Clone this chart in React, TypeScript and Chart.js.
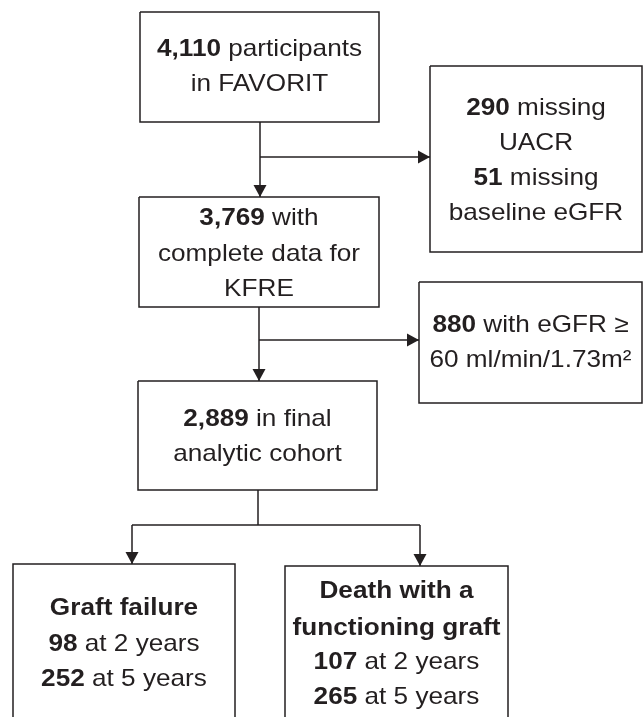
import React, { useEffect, useRef } from "react";
import { Chart, registerables } from "chart.js";

Chart.register(...registerables);

// ---------------- data ----------------
const stageCounts = [4110, 3769, 2889];
const missingCounts = [290, 51];
const highEgfrCounts = [880];
const outcomeLabels = ["Graft failure", "Death with a functioning graft"];
const outcomeYears = [2, 5];
const graftFailureCounts = [98, 252];
const deathWithGraftCounts = [107, 265];

// ---------------- layout ----------------
const W = 644;
const H = 717;
const INK = "#231f20";
const FONT = "Liberation Sans, Arial, sans-serif";
const FONT_SIZE = 24;
const STRETCH = 1.09;

type Seg = { t: string; b?: boolean };
type Box = { x0: number; x1: number; y0: number; y1: number; ty: number[]; lines: Seg[][]; open?: boolean };

const fmt = (n: number) => n.toLocaleString("en-US");

const boxes: Box[] = [
  {
    x0: 140, x1: 379, y0: 12, y1: 122, ty: [47, 82],
    lines: [[{ t: fmt(stageCounts[0]), b: true }, { t: " participants" }], [{ t: "in FAVORIT" }]],
  },
  {
    x0: 139, x1: 379, y0: 197, y1: 307, ty: [216, 252, 287],
    lines: [[{ t: fmt(stageCounts[1]), b: true }, { t: " with" }], [{ t: "complete data for" }], [{ t: "KFRE" }]],
  },
  {
    x0: 138, x1: 377, y0: 381, y1: 490, ty: [417, 452],
    lines: [[{ t: fmt(stageCounts[2]), b: true }, { t: " in final" }], [{ t: "analytic cohort" }]],
  },
  {
    x0: 430, x1: 642, y0: 66, y1: 252, ty: [106, 141, 176, 211],
    lines: [
      [{ t: fmt(missingCounts[0]), b: true }, { t: " missing" }],
      [{ t: "UACR" }],
      [{ t: fmt(missingCounts[1]), b: true }, { t: " missing" }],
      [{ t: "baseline eGFR" }],
    ],
  },
  {
    x0: 419, x1: 642, y0: 282, y1: 403, ty: [323, 358],
    lines: [[{ t: fmt(highEgfrCounts[0]), b: true }, { t: " with eGFR \u2265" }], [{ t: "60 ml/min/1.73m\u00b2" }]],
  },
  {
    x0: 13, x1: 235, y0: 564, y1: 730, ty: [606, 642, 677], open: true,
    lines: [
      [{ t: outcomeLabels[0], b: true }],
      [{ t: fmt(graftFailureCounts[0]), b: true }, { t: ` at ${outcomeYears[0]} years` }],
      [{ t: fmt(graftFailureCounts[1]), b: true }, { t: ` at ${outcomeYears[1]} years` }],
    ],
  },
  {
    x0: 285, x1: 508, y0: 566, y1: 730, ty: [589, 626, 660, 695], open: true,
    lines: [
      [{ t: "Death with a", b: true }],
      [{ t: "functioning graft", b: true }],
      [{ t: fmt(deathWithGraftCounts[0]), b: true }, { t: ` at ${outcomeYears[0]} years` }],
      [{ t: fmt(deathWithGraftCounts[1]), b: true }, { t: ` at ${outcomeYears[1]} years` }],
    ],
  },
];

// connectors: polylines; arrow = direction at last point
type Conn = { pts: [number, number][]; arrow?: "down" | "right" };
const connectors: Conn[] = [
  { pts: [[260, 122], [260, 197]], arrow: "down" },
  { pts: [[260, 157], [430, 157]], arrow: "right" },
  { pts: [[259, 307], [259, 381]], arrow: "down" },
  { pts: [[259, 340], [419, 340]], arrow: "right" },
  { pts: [[258, 490], [258, 525]] },
  { pts: [[132, 525], [420, 525]] },
  { pts: [[132, 525], [132, 564]], arrow: "down" },
  { pts: [[420, 525], [420, 566]], arrow: "down" },
];

const boxPolyline = (b: Box) =>
  b.open
    ? [
        { x: b.x0, y: b.y1 },
        { x: b.x0, y: b.y0 },
        { x: b.x1, y: b.y0 },
        { x: b.x1, y: b.y1 },
      ]
    : [
        { x: b.x0, y: b.y0 },
        { x: b.x1, y: b.y0 },
        { x: b.x1, y: b.y1 },
        { x: b.x0, y: b.y1 },
        { x: b.x0, y: b.y0 },
      ];

const overlayPlugin = {
  id: "flowOverlay",
  afterDatasetsDraw(chart: any) {
    const ctx: CanvasRenderingContext2D = chart.ctx;
    const sx = chart.scales.x;
    const sy = chart.scales.y;
    const px = (v: number) => sx.getPixelForValue(v);
    const py = (v: number) => sy.getPixelForValue(v);

    // arrowheads
    ctx.save();
    ctx.fillStyle = INK;
    connectors.forEach((c) => {
      if (!c.arrow) return;
      const [tx, ty] = c.pts[c.pts.length - 1];
      const x = px(tx);
      const y = py(ty);
      ctx.beginPath();
      if (c.arrow === "down") {
        ctx.moveTo(x, y);
        ctx.lineTo(x - 6.5, y - 12);
        ctx.lineTo(x + 6.5, y - 12);
      } else {
        ctx.moveTo(x, y);
        ctx.lineTo(x - 12, y - 6.5);
        ctx.lineTo(x - 12, y + 6.5);
      }
      ctx.closePath();
      ctx.fill();
    });
    ctx.restore();

    // text
    ctx.save();
    ctx.fillStyle = INK;
    ctx.textBaseline = "alphabetic";
    ctx.textAlign = "left";
    const fontOf = (b?: boolean) => `${b ? "bold " : ""}${FONT_SIZE}px ${FONT}`;
    boxes.forEach((b) => {
      const cx = px((b.x0 + b.x1) / 2);
      b.lines.forEach((line, i) => {
        let total = 0;
        const widths = line.map((s) => {
          ctx.font = fontOf(s.b);
          const w = ctx.measureText(s.t).width;
          total += w;
          return w;
        });
        const baseY = py(b.ty[i]) + FONT_SIZE * 0.358;
        ctx.save();
        ctx.translate(cx, baseY);
        ctx.scale(STRETCH, 1);
        let x = -total / 2;
        line.forEach((s, k) => {
          ctx.font = fontOf(s.b);
          ctx.fillText(s.t, x, 0);
          x += widths[k];
        });
        ctx.restore();
      });
    });
    ctx.restore();
  },
};

export default function App() {
  const ref = useRef<HTMLCanvasElement | null>(null);

  useEffect(() => {
    document.body.style.margin = "0";
    document.body.style.background = "#ffffff";
    const canvas = ref.current;
    if (!canvas) return;

    const datasets: any[] = [];
    boxes.forEach((b) => {
      datasets.push({
        data: boxPolyline(b),
        showLine: true,
        borderColor: INK,
        borderWidth: 1.5,
        pointRadius: 0,
        fill: false,
        tension: 0,
      });
    });
    connectors.forEach((c) => {
      datasets.push({
        data: c.pts.map(([x, y]) => ({ x, y })),
        showLine: true,
        borderColor: INK,
        borderWidth: 1.5,
        pointRadius: 0,
        fill: false,
        tension: 0,
      });
    });

    const chart = new Chart(canvas, {
      type: "scatter",
      data: { datasets },
      options: {
        responsive: false,
        maintainAspectRatio: false,
        animation: false,
        events: [],
        layout: { padding: 0 },
        scales: {
          x: { type: "linear", min: 0, max: W, display: false },
          y: { type: "linear", min: 0, max: H, reverse: true, display: false },
        },
        plugins: {
          legend: { display: false },
          tooltip: { enabled: false },
        },
      },
      plugins: [overlayPlugin],
    } as any);

    return () => chart.destroy();
  }, []);

  return (
    <div style={{ width: W, height: H, background: "#fff" }}>
      <canvas ref={ref} width={W} height={H} style={{ display: "block", width: W, height: H }} />
    </div>
  );
}
